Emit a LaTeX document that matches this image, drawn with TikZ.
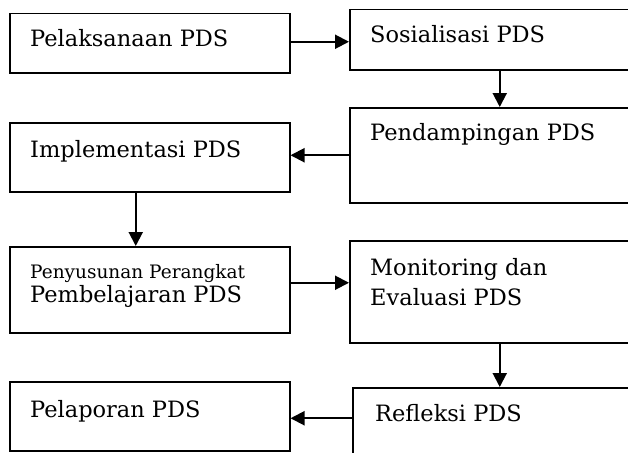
\documentclass[tikz,border=0pt]{standalone}
\usepackage{fontspec}
\setmainfont{DejaVu Serif}
\usetikzlibrary{arrows.meta}

\tikzset{
  box/.style={draw, line width=1.5pt, anchor=north west, inner sep=0pt},
  lbl/.style={anchor=base west, inner sep=0pt, font=\fontsize{22.5}{27}\selectfont},
  lblsmall/.style={lbl, font=\fontsize{18.5}{22}\selectfont},
  arr/.style={line width=2pt, -{Triangle[length=14pt,width=14pt]}},
}

\begin{document}
\begin{tikzpicture}[x=1pt,y=-1pt]
\useasboundingbox (0,0) rectangle (628,452);
\clip (0,0) rectangle (628,452);
% Left column boxes
\node[box, minimum width=280pt, minimum height=59pt] (pelaksanaan) at (9,13) {};
\node[box, minimum width=280pt, minimum height=69pt] (implementasi) at (9,122) {};
\node[box, minimum width=280pt, minimum height=86pt] (penyusunan) at (9,246) {};
\node[box, minimum width=280pt, minimum height=69pt] (pelaporan) at (9,381) {};
% Right column boxes (run past the right edge)
\node[box, minimum width=300pt, minimum height=60pt] (sosialisasi) at (349,9) {};
\node[box, minimum width=300pt, minimum height=95pt] (pendampingan) at (349,107) {};
\node[box, minimum width=300pt, minimum height=102pt] (monev) at (349,240) {};
\node[box, minimum width=300pt, minimum height=100pt] (refleksi) at (352,387) {};
% Box texts
\node[lbl] (pelaksanaanT) at (30,47) {Pelaksanaan PDS};
\node[lbl] (implementasiT) at (30,157) {Implementasi PDS};
\node[lblsmall] (penyusunanT) at (30,278) {Penyusunan Perangkat};
\node[lbl] (pembelajaranT) at (30,302) {Pembelajaran PDS};
\node[lbl] (pelaporanT) at (30,417) {Pelaporan PDS};
\node[lbl] (sosialisasiT) at (370,43) {Sosialisasi PDS};
\node[lbl] (pendampinganT) at (370,140) {Pendampingan PDS};
\node[lbl] (monitoringT) at (370,275) {Monitoring dan};
\node[lbl] (evaluasiT) at (370,305) {Evaluasi PDS};
\node[lbl] (refleksiT) at (375,421) {Refleksi PDS};
% Flow arrows
\draw[arr] ([yshift=1.5pt]pelaksanaan.east) -- ([yshift=1.5pt]pelaksanaan.east -| sosialisasi.west);
\draw[arr] (sosialisasi.south) -- (sosialisasi.south |- pendampingan.north);
\draw[arr] (pendampingan.west) -- (pendampingan.west -| implementasi.east);
\draw[arr] ([xshift=-14pt]implementasi.south) -- ([xshift=-14pt]implementasi.south |- penyusunan.north);
\draw[arr] ([yshift=7pt]penyusunan.east) -- ([yshift=7pt]penyusunan.east -| monev.west);
\draw[arr] (monev.south) -- (monev.south |- refleksi.north);
\draw[arr] ([yshift=-2pt]refleksi.west |- pelaporan.east) -- ([yshift=-2pt]pelaporan.east);
\end{tikzpicture}
\end{document}
